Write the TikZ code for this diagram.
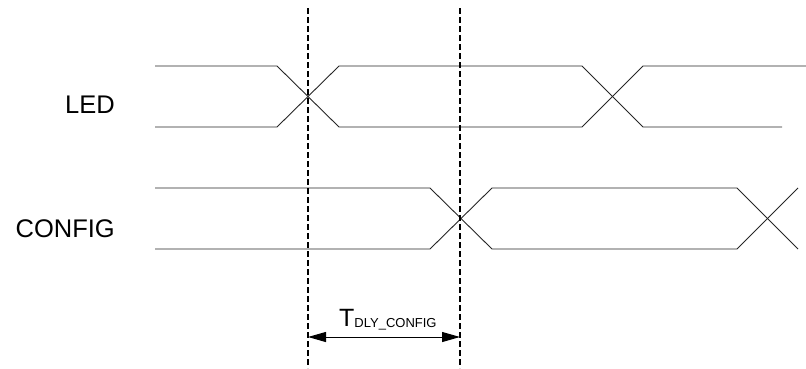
\documentclass[tikz,border=0pt]{standalone}
\usepackage{fontspec}
\setmainfont{Liberation Sans}
\usetikzlibrary{arrows.meta}
\begin{document}
\begin{tikzpicture}[x=1pt,y=-1pt,
  sig/.style={line width=0.9pt,draw=black!85},
  guide/.style={line width=1.3pt,dash pattern=on 6pt off 3pt},
  lbl/.style={font=\fontsize{25.5}{30}\selectfont,inner sep=0pt,anchor=base east},
  dim/.style={line width=1pt,{Triangle[length=18pt,width=10pt]}-{Triangle[length=18pt,width=10pt]}}]
\useasboundingbox (0,0) rectangle (806,368);
% labels
\node[lbl] (led) at (115,113) {LED};
\node[lbl] (config) at (115,237.5) {CONFIG};
% LED signal
\draw[sig] (155,66)--(277,66)--(339,127)--(582,127)--(643,66)--(806,66);
\draw[sig] (155,127)--(277,127)--(339,66)--(582,66)--(643,127)--(782,127);
% CONFIG signal
\draw[sig] (155,188)--(430,188)--(492,249)--(737,249)--(798,188);
\draw[sig] (155,249)--(430,249)--(492,188)--(737,188)--(798,249);
% guides
\coordinate (g1t) at (308,8);
\coordinate (g1b) at (308,368);
\coordinate (g2t) at (460,8);
\coordinate (g2b) at (460,368);
\draw[guide] (g1t)--(g1b);
\draw[guide] (g2t)--(g2b);
% dimension
\coordinate (a1) at (308,337);
\coordinate (a2) at (460,337);
\draw[dim] (a1)--(a2);
\node[inner sep=0pt,anchor=base west,font=\fontsize{25}{28}\selectfont] (tdly) at (339,326) {T\raisebox{-1.5pt}{\fontsize{13}{15}\selectfont DLY\_CONFIG}};
\end{tikzpicture}
\end{document}
